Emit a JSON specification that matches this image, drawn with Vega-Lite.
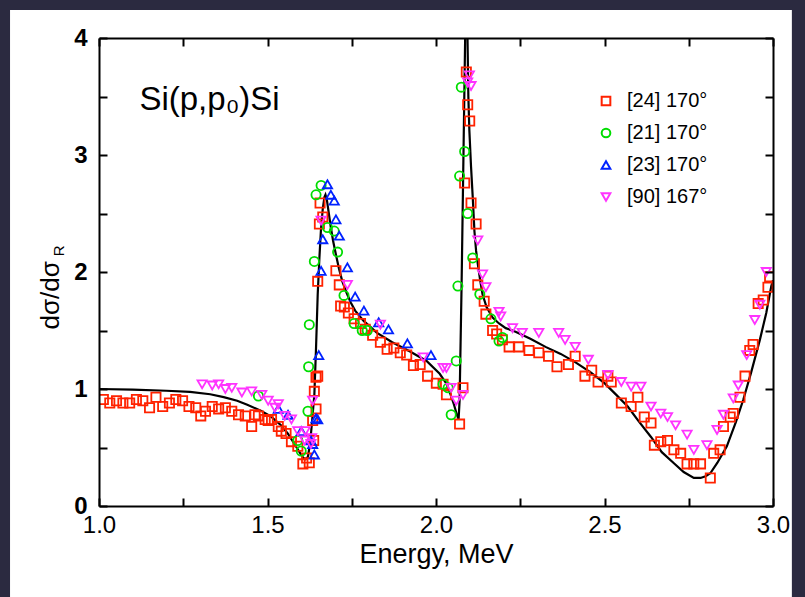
{
  "$schema": "https://vega.github.io/schema/vega-lite/v6.json",
  "width": 674,
  "height": 468,
  "autosize": {"type": "none"},
  "padding": {"left": 99, "top": 38, "right": 32, "bottom": 91},
  "background": "#2b2a40",
  "config": {
    "view": {"stroke": null},
    "font": "Liberation Sans",
    "axis": {"domainColor": "black", "domainWidth": 2, "tickColor": "black", "tickWidth": 2, "tickSize": -8, "grid": false, "labelColor": "black", "labelFont": "Liberation Sans", "titleFont": "Liberation Sans", "titleColor": "black"},
    "legend": {"zindex": 1}
  },
  "datasets": {
    "curve": [
      {"E":1.00,"v":1.00},{"E":1.10,"v":0.995},{"E":1.20,"v":0.985},{"E":1.27,"v":0.975},{"E":1.33,"v":0.955},{"E":1.37,"v":0.93},{"E":1.41,"v":0.90},{"E":1.44,"v":0.865},{"E":1.48,"v":0.815},{"E":1.51,"v":0.765},{"E":1.54,"v":0.69},{"E":1.56,"v":0.62},{"E":1.58,"v":0.53},{"E":1.595,"v":0.46},{"E":1.605,"v":0.415},{"E":1.613,"v":0.40},{"E":1.620,"v":0.42},{"E":1.627,"v":0.55},{"E":1.633,"v":0.75},{"E":1.639,"v":0.95},{"E":1.644,"v":1.35},{"E":1.649,"v":1.81},{"E":1.654,"v":2.12},{"E":1.659,"v":2.38},{"E":1.664,"v":2.54},{"E":1.669,"v":2.64},{"E":1.672,"v":2.66},{"E":1.676,"v":2.62},{"E":1.682,"v":2.50},{"E":1.688,"v":2.38},{"E":1.695,"v":2.26},{"E":1.703,"v":2.15},{"E":1.712,"v":2.03},{"E":1.722,"v":1.92},{"E":1.735,"v":1.82},{"E":1.747,"v":1.74},{"E":1.760,"v":1.67},{"E":1.786,"v":1.58},{"E":1.825,"v":1.48},{"E":1.87,"v":1.40},{"E":1.923,"v":1.32},{"E":1.972,"v":1.24},{"E":2.011,"v":1.13},{"E":2.030,"v":1.05},{"E":2.041,"v":0.97},{"E":2.053,"v":0.87},{"E":2.062,"v":0.78},{"E":2.067,"v":0.74},{"E":2.070,"v":0.9},{"E":2.076,"v":1.9},{"E":2.082,"v":3.1},{"E":2.087,"v":4.1},{"E":2.090,"v":4.4},{"E":2.093,"v":4.1},{"E":2.096,"v":3.5},{"E":2.099,"v":3.21},{"E":2.104,"v":2.9},{"E":2.109,"v":2.64},{"E":2.114,"v":2.35},{"E":2.119,"v":2.18},{"E":2.124,"v":2.07},{"E":2.131,"v":1.93},{"E":2.138,"v":1.81},{"E":2.150,"v":1.70},{"E":2.168,"v":1.61},{"E":2.187,"v":1.56},{"E":2.207,"v":1.52},{"E":2.236,"v":1.49},{"E":2.28,"v":1.43},{"E":2.325,"v":1.36},{"E":2.37,"v":1.30},{"E":2.413,"v":1.23},{"E":2.46,"v":1.14},{"E":2.50,"v":1.05},{"E":2.535,"v":0.95},{"E":2.569,"v":0.85},{"E":2.60,"v":0.73},{"E":2.638,"v":0.59},{"E":2.67,"v":0.46},{"E":2.706,"v":0.365},{"E":2.735,"v":0.29},{"E":2.765,"v":0.24},{"E":2.785,"v":0.24},{"E":2.80,"v":0.255},{"E":2.814,"v":0.28},{"E":2.835,"v":0.37},{"E":2.863,"v":0.51},{"E":2.89,"v":0.72},{"E":2.912,"v":0.91},{"E":2.935,"v":1.14},{"E":2.961,"v":1.42},{"E":2.98,"v":1.65},{"E":2.995,"v":1.88},{"E":3.0,"v":1.93}
    ],
    "pts": [
      {"s":"[24] 170°","E":1.013,"v":0.91},{"s":"[24] 170°","E":1.032,"v":0.88},{"s":"[24] 170°","E":1.052,"v":0.90},{"s":"[24] 170°","E":1.071,"v":0.88},{"s":"[24] 170°","E":1.091,"v":0.88},{"s":"[24] 170°","E":1.111,"v":0.91},{"s":"[24] 170°","E":1.130,"v":0.90},{"s":"[24] 170°","E":1.150,"v":0.84},{"s":"[24] 170°","E":1.169,"v":0.93},{"s":"[24] 170°","E":1.189,"v":0.85},{"s":"[24] 170°","E":1.209,"v":0.88},{"s":"[24] 170°","E":1.228,"v":0.91},{"s":"[24] 170°","E":1.248,"v":0.90},{"s":"[24] 170°","E":1.267,"v":0.85},{"s":"[24] 170°","E":1.287,"v":0.84},{"s":"[24] 170°","E":1.302,"v":0.77},{"s":"[24] 170°","E":1.316,"v":0.81},{"s":"[24] 170°","E":1.336,"v":0.85},{"s":"[24] 170°","E":1.355,"v":0.83},{"s":"[24] 170°","E":1.375,"v":0.84},{"s":"[24] 170°","E":1.394,"v":0.81},{"s":"[24] 170°","E":1.414,"v":0.78},{"s":"[24] 170°","E":1.434,"v":0.77},{"s":"[24] 170°","E":1.453,"v":0.68},{"s":"[24] 170°","E":1.463,"v":0.78},{"s":"[24] 170°","E":1.473,"v":0.77},{"s":"[24] 170°","E":1.493,"v":0.74},{"s":"[24] 170°","E":1.502,"v":0.73},{"s":"[24] 170°","E":1.512,"v":0.74},{"s":"[24] 170°","E":1.532,"v":0.68},{"s":"[24] 170°","E":1.541,"v":0.64},{"s":"[24] 170°","E":1.555,"v":0.62},{"s":"[24] 170°","E":1.571,"v":0.55},{"s":"[24] 170°","E":1.590,"v":0.51},{"s":"[24] 170°","E":1.605,"v":0.36},{"s":"[24] 170°","E":1.616,"v":0.41},{"s":"[24] 170°","E":1.624,"v":0.37},{"s":"[24] 170°","E":1.634,"v":0.73},{"s":"[24] 170°","E":1.637,"v":0.56},{"s":"[24] 170°","E":1.639,"v":0.98},{"s":"[24] 170°","E":1.644,"v":0.83},{"s":"[24] 170°","E":1.644,"v":1.10},{"s":"[24] 170°","E":1.649,"v":1.11},{"s":"[24] 170°","E":1.649,"v":1.92},{"s":"[24] 170°","E":1.654,"v":2.41},{"s":"[24] 170°","E":1.656,"v":2.59},{"s":"[24] 170°","E":1.664,"v":2.47},{"s":"[24] 170°","E":1.703,"v":2.01},{"s":"[24] 170°","E":1.713,"v":1.89},{"s":"[24] 170°","E":1.717,"v":1.71},{"s":"[24] 170°","E":1.728,"v":1.70},{"s":"[24] 170°","E":1.740,"v":1.65},{"s":"[24] 170°","E":1.757,"v":1.60},{"s":"[24] 170°","E":1.776,"v":1.56},{"s":"[24] 170°","E":1.790,"v":1.51},{"s":"[24] 170°","E":1.812,"v":1.46},{"s":"[24] 170°","E":1.835,"v":1.40},{"s":"[24] 170°","E":1.855,"v":1.34},{"s":"[24] 170°","E":1.875,"v":1.35},{"s":"[24] 170°","E":1.894,"v":1.31},{"s":"[24] 170°","E":1.913,"v":1.29},{"s":"[24] 170°","E":1.933,"v":1.20},{"s":"[24] 170°","E":1.953,"v":1.21},{"s":"[24] 170°","E":1.975,"v":1.11},{"s":"[24] 170°","E":2.001,"v":1.05},{"s":"[24] 170°","E":2.021,"v":1.04},{"s":"[24] 170°","E":2.031,"v":0.95},{"s":"[24] 170°","E":2.070,"v":0.70},{"s":"[24] 170°","E":2.080,"v":1.01},{"s":"[24] 170°","E":2.085,"v":2.76},{"s":"[24] 170°","E":2.090,"v":3.71},{"s":"[24] 170°","E":2.094,"v":3.43},{"s":"[24] 170°","E":2.100,"v":3.29},{"s":"[24] 170°","E":2.104,"v":2.59},{"s":"[24] 170°","E":2.114,"v":2.07},{"s":"[24] 170°","E":2.119,"v":2.41},{"s":"[24] 170°","E":2.124,"v":1.89},{"s":"[24] 170°","E":2.143,"v":1.75},{"s":"[24] 170°","E":2.148,"v":1.64},{"s":"[24] 170°","E":2.168,"v":1.50},{"s":"[24] 170°","E":2.180,"v":1.47},{"s":"[24] 170°","E":2.197,"v":1.42},{"s":"[24] 170°","E":2.217,"v":1.36},{"s":"[24] 170°","E":2.246,"v":1.36},{"s":"[24] 170°","E":2.276,"v":1.33},{"s":"[24] 170°","E":2.305,"v":1.31},{"s":"[24] 170°","E":2.334,"v":1.28},{"s":"[24] 170°","E":2.359,"v":1.19},{"s":"[24] 170°","E":2.393,"v":1.21},{"s":"[24] 170°","E":2.413,"v":1.28},{"s":"[24] 170°","E":2.442,"v":1.11},{"s":"[24] 170°","E":2.462,"v":1.16},{"s":"[24] 170°","E":2.481,"v":1.06},{"s":"[24] 170°","E":2.510,"v":1.11},{"s":"[24] 170°","E":2.520,"v":1.06},{"s":"[24] 170°","E":2.550,"v":0.88},{"s":"[24] 170°","E":2.579,"v":0.85},{"s":"[24] 170°","E":2.599,"v":0.93},{"s":"[24] 170°","E":2.618,"v":0.76},{"s":"[24] 170°","E":2.638,"v":0.71},{"s":"[24] 170°","E":2.648,"v":0.52},{"s":"[24] 170°","E":2.667,"v":0.55},{"s":"[24] 170°","E":2.687,"v":0.56},{"s":"[24] 170°","E":2.706,"v":0.48},{"s":"[24] 170°","E":2.726,"v":0.45},{"s":"[24] 170°","E":2.745,"v":0.36},{"s":"[24] 170°","E":2.765,"v":0.36},{"s":"[24] 170°","E":2.785,"v":0.36},{"s":"[24] 170°","E":2.814,"v":0.24},{"s":"[24] 170°","E":2.824,"v":0.45},{"s":"[24] 170°","E":2.843,"v":0.48},{"s":"[24] 170°","E":2.853,"v":0.68},{"s":"[24] 170°","E":2.873,"v":0.76},{"s":"[24] 170°","E":2.882,"v":0.79},{"s":"[24] 170°","E":2.902,"v":0.93},{"s":"[24] 170°","E":2.917,"v":1.11},{"s":"[24] 170°","E":2.931,"v":1.33},{"s":"[24] 170°","E":2.941,"v":1.38},{"s":"[24] 170°","E":2.956,"v":1.73},{"s":"[24] 170°","E":2.971,"v":1.76},{"s":"[24] 170°","E":2.985,"v":1.87},{"s":"[24] 170°","E":2.990,"v":1.96},
      {"s":"[21] 170°","E":1.473,"v":0.94},{"s":"[21] 170°","E":1.590,"v":0.56},{"s":"[21] 170°","E":1.600,"v":0.47},{"s":"[21] 170°","E":1.620,"v":0.81},{"s":"[21] 170°","E":1.622,"v":1.19},{"s":"[21] 170°","E":1.624,"v":1.55},{"s":"[21] 170°","E":1.639,"v":2.09},{"s":"[21] 170°","E":1.644,"v":2.66},{"s":"[21] 170°","E":1.659,"v":2.74},{"s":"[21] 170°","E":1.678,"v":2.38},{"s":"[21] 170°","E":1.698,"v":2.35},{"s":"[21] 170°","E":1.708,"v":2.17},{"s":"[21] 170°","E":1.727,"v":1.80},{"s":"[21] 170°","E":1.757,"v":1.56},{"s":"[21] 170°","E":1.781,"v":1.50},{"s":"[21] 170°","E":1.796,"v":1.50},{"s":"[21] 170°","E":2.021,"v":1.04},{"s":"[21] 170°","E":2.036,"v":1.01},{"s":"[21] 170°","E":2.045,"v":0.78},{"s":"[21] 170°","E":2.060,"v":1.24},{"s":"[21] 170°","E":2.065,"v":1.88},{"s":"[21] 170°","E":2.070,"v":2.82},{"s":"[21] 170°","E":2.075,"v":3.58},{"s":"[21] 170°","E":2.085,"v":3.03},{"s":"[21] 170°","E":2.094,"v":2.50},{"s":"[21] 170°","E":2.109,"v":2.12},{"s":"[21] 170°","E":2.130,"v":1.81},{"s":"[21] 170°","E":2.163,"v":1.60},{"s":"[21] 170°","E":2.187,"v":1.41},{"s":"[21] 170°","E":2.197,"v":1.44},
      {"s":"[23] 170°","E":1.532,"v":0.83},{"s":"[23] 170°","E":1.561,"v":0.78},{"s":"[23] 170°","E":1.600,"v":0.64},{"s":"[23] 170°","E":1.629,"v":0.56},{"s":"[23] 170°","E":1.634,"v":0.53},{"s":"[23] 170°","E":1.639,"v":0.44},{"s":"[23] 170°","E":1.644,"v":0.75},{"s":"[23] 170°","E":1.649,"v":0.74},{"s":"[23] 170°","E":1.652,"v":1.29},{"s":"[23] 170°","E":1.659,"v":2.01},{"s":"[23] 170°","E":1.664,"v":2.28},{"s":"[23] 170°","E":1.678,"v":2.75},{"s":"[23] 170°","E":1.688,"v":2.66},{"s":"[23] 170°","E":1.698,"v":2.61},{"s":"[23] 170°","E":1.703,"v":2.45},{"s":"[23] 170°","E":1.713,"v":2.31},{"s":"[23] 170°","E":1.737,"v":2.04},{"s":"[23] 170°","E":1.760,"v":1.79},{"s":"[23] 170°","E":1.786,"v":1.67},{"s":"[23] 170°","E":1.830,"v":1.57},{"s":"[23] 170°","E":1.859,"v":1.51},{"s":"[23] 170°","E":1.915,"v":1.39},{"s":"[23] 170°","E":1.985,"v":1.29},
      {"s":"[90] 167°","E":1.306,"v":1.04},{"s":"[90] 167°","E":1.336,"v":1.03},{"s":"[90] 167°","E":1.355,"v":1.04},{"s":"[90] 167°","E":1.375,"v":1.00},{"s":"[90] 167°","E":1.394,"v":1.01},{"s":"[90] 167°","E":1.424,"v":0.97},{"s":"[90] 167°","E":1.453,"v":0.98},{"s":"[90] 167°","E":1.483,"v":0.95},{"s":"[90] 167°","E":1.502,"v":0.90},{"s":"[90] 167°","E":1.522,"v":0.84},{"s":"[90] 167°","E":1.532,"v":0.87},{"s":"[90] 167°","E":1.551,"v":0.77},{"s":"[90] 167°","E":1.571,"v":0.74},{"s":"[90] 167°","E":1.590,"v":0.64},{"s":"[90] 167°","E":1.610,"v":0.56},{"s":"[90] 167°","E":1.612,"v":0.64},{"s":"[90] 167°","E":1.629,"v":0.53},{"s":"[90] 167°","E":1.631,"v":0.58},{"s":"[90] 167°","E":1.634,"v":0.90},{"s":"[90] 167°","E":1.659,"v":2.44},{"s":"[90] 167°","E":1.737,"v":1.89},{"s":"[90] 167°","E":1.835,"v":1.55},{"s":"[90] 167°","E":1.962,"v":1.27},{"s":"[90] 167°","E":2.021,"v":1.18},{"s":"[90] 167°","E":2.031,"v":1.18},{"s":"[90] 167°","E":2.045,"v":1.01},{"s":"[90] 167°","E":2.060,"v":0.90},{"s":"[90] 167°","E":2.080,"v":0.95},{"s":"[90] 167°","E":2.094,"v":3.62},{"s":"[90] 167°","E":2.099,"v":3.68},{"s":"[90] 167°","E":2.104,"v":3.59},{"s":"[90] 167°","E":2.124,"v":2.27},{"s":"[90] 167°","E":2.138,"v":1.98},{"s":"[90] 167°","E":2.148,"v":1.87},{"s":"[90] 167°","E":2.187,"v":1.66},{"s":"[90] 167°","E":2.192,"v":1.62},{"s":"[90] 167°","E":2.227,"v":1.52},{"s":"[90] 167°","E":2.256,"v":1.48},{"s":"[90] 167°","E":2.305,"v":1.48},{"s":"[90] 167°","E":2.364,"v":1.48},{"s":"[90] 167°","E":2.383,"v":1.42},{"s":"[90] 167°","E":2.413,"v":1.36},{"s":"[90] 167°","E":2.452,"v":1.25},{"s":"[90] 167°","E":2.510,"v":1.12},{"s":"[90] 167°","E":2.550,"v":1.06},{"s":"[90] 167°","E":2.579,"v":1.02},{"s":"[90] 167°","E":2.608,"v":1.02},{"s":"[90] 167°","E":2.638,"v":0.85},{"s":"[90] 167°","E":2.667,"v":0.79},{"s":"[90] 167°","E":2.687,"v":0.76},{"s":"[90] 167°","E":2.711,"v":0.69},{"s":"[90] 167°","E":2.745,"v":0.61},{"s":"[90] 167°","E":2.765,"v":0.48},{"s":"[90] 167°","E":2.804,"v":0.52},{"s":"[90] 167°","E":2.834,"v":0.65},{"s":"[90] 167°","E":2.853,"v":0.78},{"s":"[90] 167°","E":2.882,"v":0.92},{"s":"[90] 167°","E":2.897,"v":1.03},{"s":"[90] 167°","E":2.922,"v":1.29},{"s":"[90] 167°","E":2.946,"v":1.59},{"s":"[90] 167°","E":2.961,"v":1.72},{"s":"[90] 167°","E":2.980,"v":2.00}
    ]
  },
  "layer": [
    {
      "data": {"values": [{}]},
      "mark": {"type": "rect", "color": "white", "clip": false, "zindex": -1},
      "encoding": {
        "x": {"datum": 0.736, "type": "quantitative", "scale": {"domain": [1, 3], "nice": false, "zero": false}, "axis": null},
        "x2": {"datum": 3.056},
        "y": {"datum": -0.8, "type": "quantitative", "scale": {"domain": [0, 4], "nice": false, "zero": false}, "axis": null},
        "y2": {"datum": 4.24}
      }
    },
    {
      "data": {"name": "curve"},
      "mark": {"type": "line", "color": "black", "strokeWidth": 2.2, "clip": true},
      "encoding": {
        "x": {"field": "E", "type": "quantitative", "axis": {"zindex": 2, "orient": "top", "labels": false, "title": null, "values": [1, 1.25, 1.5, 1.75, 2, 2.25, 2.5, 2.75, 3]}},
        "y": {"field": "v", "type": "quantitative", "axis": {"zindex": 2, "orient": "right", "labels": false, "title": null, "values": [0, 0.5, 1, 1.5, 2, 2.5, 3, 3.5, 4]}}
      }
    },
    {
      "data": {"name": "pts"},
      "mark": {"type": "point", "filled": false, "size": 85, "strokeWidth": 1.8, "opacity": 1, "clip": true},
      "encoding": {
        "x": {"field": "E", "type": "quantitative", "axis": {"zindex": 2, "orient": "bottom", "values": [1, 1.25, 1.5, 1.75, 2, 2.25, 2.5, 2.75, 3], "labelExpr": "datum.value % 0.5 == 0 ? format(datum.value, '.1f') : ''", "labelFontSize": 24, "labelPadding": 15, "labelFlush": false, "labelOverlap": false, "title": "Energy, MeV", "titleFontSize": 27, "titleFontWeight": "normal", "titlePadding": 4}},
        "y": {"field": "v", "type": "quantitative", "axis": {"zindex": 2, "orient": "left", "values": [0, 0.5, 1, 1.5, 2, 2.5, 3, 3.5, 4], "labelExpr": "datum.value % 1 == 0 ? format(datum.value, 'd') : ''", "labelFontSize": 24, "labelFontWeight": "bold", "labelPadding": 20, "labelFlush": false, "labelOverlap": false, "title": null}},
        "shape": {"field": "s", "type": "nominal", "scale": {"domain": ["[24] 170°", "[21] 170°", "[23] 170°", "[90] 167°"], "range": ["square", "circle", "triangle-up", "triangle-down"]}, "legend": {"title": null, "orient": "none", "legendX": 497, "legendY": 53, "labelFontSize": 20, "labelFont": "Liberation Sans", "labelColor": "black", "symbolSize": 75, "symbolStrokeWidth": 2, "labelOffset": 11, "rowPadding": 12}},
        "color": {"field": "s", "type": "nominal", "scale": {"domain": ["[24] 170°", "[21] 170°", "[23] 170°", "[90] 167°"], "range": ["#ff2200", "#00dd00", "#0022ff", "#ff33ff"]}, "legend": {"title": null, "orient": "none", "legendX": 497, "legendY": 53, "labelFontSize": 20, "labelFont": "Liberation Sans", "labelColor": "black", "symbolSize": 75, "symbolStrokeWidth": 2, "labelOffset": 11, "rowPadding": 12}}
      }
    },
    {
      "data": {"values": [{"t": "Si(p,p₀)Si"}]},
      "mark": {"type": "text", "fontSize": 33, "align": "left", "baseline": "middle", "color": "black", "font": "Liberation Sans"},
      "encoding": {
        "x": {"datum": 1.12, "type": "quantitative", "axis": null},
        "y": {"datum": 3.47, "type": "quantitative", "axis": null},
        "text": {"field": "t"}
      }
    },
    {
      "data": {"values": [{"t": "dσ/dσ"}]},
      "mark": {"type": "text", "fontSize": 26, "angle": 270, "align": "center", "baseline": "middle", "color": "black", "font": "Liberation Sans", "clip": false},
      "encoding": {
        "x": {"datum": 0.857, "type": "quantitative", "axis": null},
        "y": {"datum": 1.80, "type": "quantitative", "axis": null},
        "text": {"field": "t"}
      }
    },
    {
      "data": {"values": [{"t": "R"}]},
      "mark": {"type": "text", "fontSize": 15, "angle": 270, "align": "center", "baseline": "middle", "color": "black", "font": "Liberation Sans", "clip": false},
      "encoding": {
        "x": {"datum": 0.882, "type": "quantitative", "axis": null},
        "y": {"datum": 2.18, "type": "quantitative", "axis": null},
        "text": {"field": "t"}
      }
    }
  ],
  "resolve": {"axis": {"x": "independent", "y": "independent"}}
}
